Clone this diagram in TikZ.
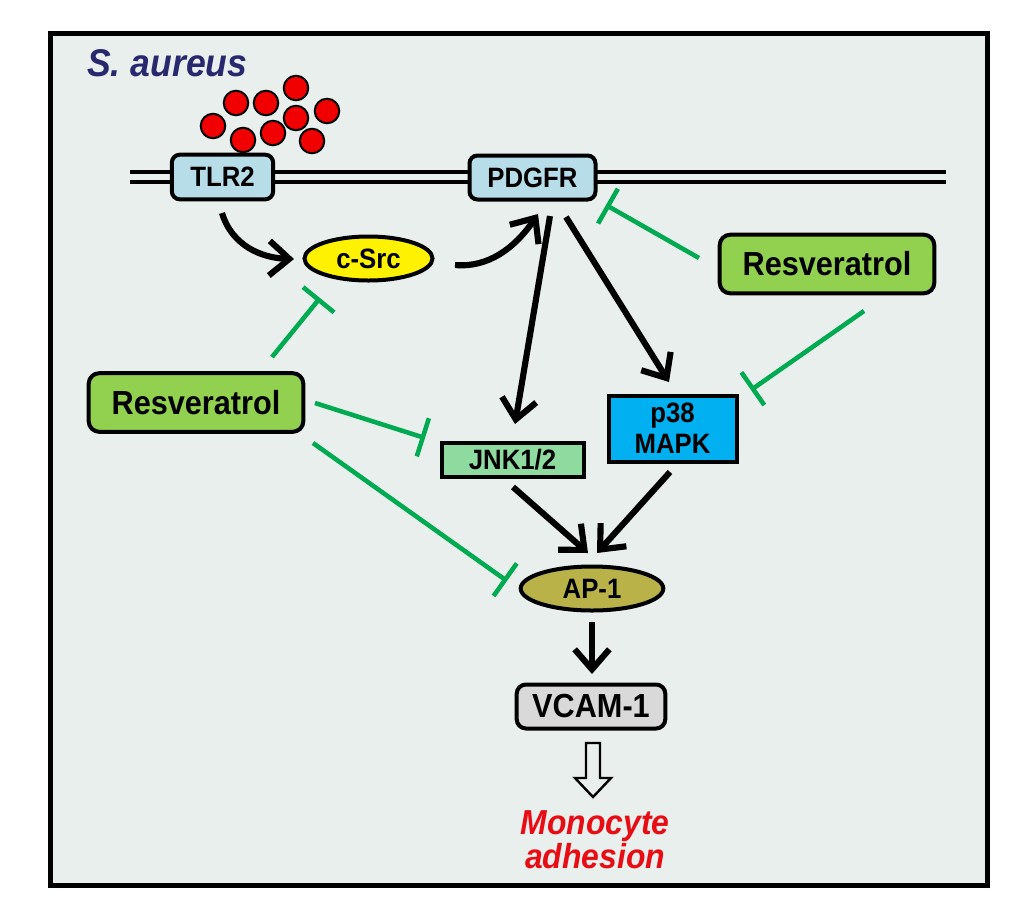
\documentclass[tikz,border=0pt]{standalone}
\usepackage{fontspec}
\setmainfont{Liberation Sans}[FakeStretch=0.92]
\usetikzlibrary{arrows.meta,shapes.geometric}
\definecolor{bg}{RGB}{232,239,236}
\definecolor{rcpt}{RGB}{183,221,232}
\definecolor{resgreen}{RGB}{146,208,80}
\definecolor{jnkgreen}{RGB}{143,218,158}
\definecolor{p38blue}{RGB}{0,176,240}
\definecolor{apolive}{RGB}{184,178,72}
\definecolor{vgray}{RGB}{217,217,217}
\definecolor{inhgreen}{RGB}{0,170,80}
\definecolor{navy}{RGB}{40,40,110}
\definecolor{monored}{RGB}{232,12,20}
\definecolor{bactred}{RGB}{240,0,0}
\tikzset{
  lbl/.style={font=\bfseries\fontsize{21}{24}\selectfont, inner sep=0pt, line width=3pt, draw=black, align=center},
  rbox/.style={lbl, rectangle, rounded corners=6pt},
  sbox/.style={lbl, rectangle},
  ell/.style={lbl, ellipse},
  resv/.style={rbox, fill=resgreen, minimum width=161pt, minimum height=44pt, rounded corners=8pt, font=\bfseries\fontsize{25}{28}\selectfont},
  arr/.style={line width=4.6pt, -{Straight Barb[length=15pt,width=26pt]}},
  inh/.style={line width=3.4pt, draw=inhgreen, -{Bar[width=30pt]}},
  memb/.style={line width=2.8pt},
  cell/.style={fill=bactred, draw=black, line width=1.5pt},
}
\begin{document}
\begin{tikzpicture}[x=0.75pt,y=-0.75pt]
\useasboundingbox (0,0) rectangle (1018,915);
\draw[line width=3.75pt, fill=bg] (50.5,33.5) rectangle (987.5,885);

% title
\node[anchor=base west, inner sep=0pt, text=navy, font=\bfseries\itshape\fontsize{29}{32}\selectfont] (title) at (87,76) {S. aureus};

% bacteria
\foreach \cx/\cy in {236/103, 266/103, 296/88, 213/126, 296/118, 327/111, 243/140, 273/133, 312/141}
  \filldraw[cell] (\cx,\cy) circle[radius=9.2pt];

% membrane
\draw[memb] (130,172) -- (946,172);
\draw[memb] (130,182) -- (946,182);

% nodes
\node[rbox, fill=rcpt, minimum width=76pt, minimum height=33.5pt] (tlr2) at (222.5,177) {TLR2};
\node[rbox, fill=rcpt, minimum width=94.5pt, minimum height=33pt] (pdgfr) at (532.5,177.5) {PDGFR};
\node[ell, fill=yellow, minimum width=96pt, minimum height=33pt] (csrc) at (368.5,258.5) {c-Src};
\node[resv] (resR) at (827,264) {Resveratrol};
\node[resv] (resL) at (196,402.5) {Resveratrol};
\node[sbox, fill=p38blue, minimum width=96pt, minimum height=49.5pt, font=\bfseries\fontsize{21}{23.5}\selectfont] (p38) at (672.5,428.5) {p38\\MAPK};
\node[sbox, fill=jnkgreen, minimum width=106.5pt, minimum height=26pt] (jnk) at (512.5,460) {JNK1/2};
\node[ell, fill=apolive, minimum width=107pt, minimum height=33pt] (ap1) at (592,588.5) {AP-1};
\node[rbox, fill=vgray, minimum width=111.5pt, minimum height=33pt, rounded corners=7pt, font=\bfseries\fontsize{25}{28}\selectfont] (vcam) at (591,706.5) {VCAM-1};
\node[inner sep=0pt, align=center, text=monored, font=\bfseries\itshape\fontsize{26}{25.5}\selectfont] (mono) at (595,840) {Monocyte\\adhesion};

% activation arrows
\coordinate (a1s) at (222,213); \coordinate (a1e) at (294,259);
\draw[arr] (a1s) .. controls (232,246) and (262,258) .. (a1e);
\coordinate (a2s) at (455,265); \coordinate (a2e) at (538,214);
\draw[arr] (a2s) .. controls (488,268) and (515,248) .. (a2e);
\coordinate (a3s) at (550,216); \coordinate (a3e) at (515,424);
\draw[arr] (a3s) -- (a3e);
\coordinate (a4s) at (566,217); \coordinate (a4e) at (669,382);
\draw[arr] (a4s) -- (a4e);
\coordinate (a5s) at (513,487); \coordinate (a5e) at (588,553);
\draw[arr] (a5s) -- (a5e);
\coordinate (a6s) at (670,472); \coordinate (a6e) at (597,553);
\draw[arr] (a6s) -- (a6e);
\coordinate (a7s) at (592,622); \coordinate (a7e) at (592,674);
\draw[arr] (a7s) -- (a7e);

% inhibitions
\coordinate (i1s) at (272,357); \coordinate (i1e) at (320,298);
\draw[inh] (i1s) -- (i1e);
\coordinate (i2s) at (315,403); \coordinate (i2e) at (425,438);
\draw[inh] (i2s) -- (i2e);
\coordinate (i3s) at (313,443); \coordinate (i3e) at (507,581);
\draw[inh] (i3s) -- (i3e);
\coordinate (i4s) at (699,258); \coordinate (i4e) at (606,205);
\draw[inh] (i4s) -- (i4e);
\coordinate (i5s) at (864,311); \coordinate (i5e) at (751,390);
\draw[inh] (i5s) -- (i5e);

% hollow arrow
\coordinate (ha) at (593,743);
\draw[line width=1.8pt, line join=miter] (ha) ++(-7,0) -- ++(14,0) -- ++(0,35) -- ++(11,0) -- ++(-18,19) -- ++(-18,-19) -- ++(11,0) -- cycle;
\end{tikzpicture}
\end{document}
